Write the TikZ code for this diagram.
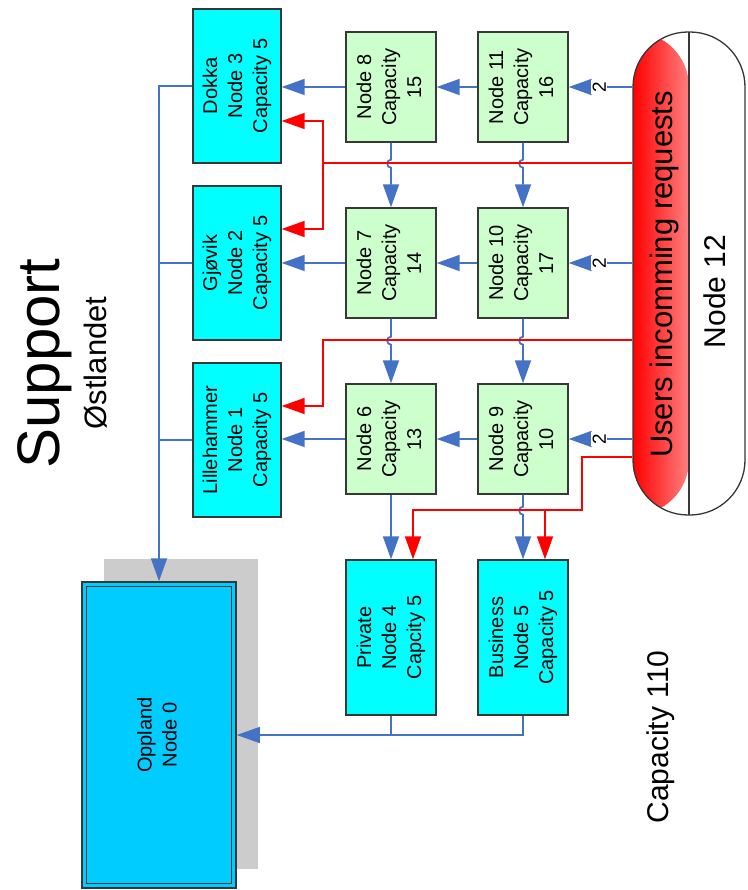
\documentclass[tikz,border=0pt]{standalone}
\usepackage{fontspec}
\setmainfont{Liberation Sans}
\usepackage{graphicx}
\usetikzlibrary{arrows.meta,calc}
\definecolor{lnblue}{RGB}{68,114,196}
\definecolor{boxcyan}{RGB}{0,255,255}
\definecolor{boxgreen}{RGB}{204,255,204}
\definecolor{oppblue}{RGB}{0,204,255}
\definecolor{shadowgray}{RGB}{204,204,204}
\definecolor{edgegray}{RGB}{55,55,55}
\definecolor{rline}{RGB}{255,0,0}
\newcommand{\rottext}[1]{\rotatebox{90}{\begin{tabular}{@{}c@{}}#1\end{tabular}}}
\begin{document}
\begin{tikzpicture}[x=1pt,y=-1pt,
  box/.style={draw=edgegray, line width=1.4pt, inner sep=0pt, font=\fontsize{20}{25}\selectfont},
  cbox/.style={box, fill=boxcyan, minimum width=88pt, minimum height=154pt},
  gbox/.style={box, fill=boxgreen, minimum width=90pt, minimum height=110pt},
  pbox/.style={box, fill=boxcyan, minimum width=90pt, minimum height=155pt},
  barrow/.style={draw=lnblue, line width=1.8pt, -{Triangle[length=23pt,width=16pt]}},
  bline/.style={draw=lnblue, line width=1.5pt},
  rarrow/.style={draw=rline, line width=1.8pt, -{Triangle[length=23pt,width=16pt]}},
  numlbl/.style={rotate=90, fill=white, inner sep=1.5pt, font=\fontsize{19}{19}\selectfont},
  bigtext/.style={rotate=90, inner sep=0pt},
]
\useasboundingbox (0,0) rectangle (747,890);

% shadow and Oppland
\fill[shadowgray] (104,559) rectangle (258,869);
\node[draw=edgegray, line width=1.5pt, fill=oppblue, minimum width=154pt, minimum height=306pt, inner sep=0pt, font=\fontsize{20}{25}\selectfont] (n0) at (159,735) {\rottext{Oppland\\Node 0}};
\draw[edgegray, line width=1.3pt] ($(n0.north west)+(5,5)$) rectangle ($(n0.south east)+(-5,-5)$);

% cyan boxes
\node[cbox] (n3) at (237,86) {\rottext{Dokka\\Node 3\\Capacity 5}};
\node[cbox] (n2) at (237,263) {\rottext{Gjøvik\\Node 2\\Capacity 5}};
\node[cbox] (n1) at (237,440) {\rottext{Lillehammer\\Node 1\\Capacity 5}};

% green boxes
\node[gbox] (n8) at (391,87) {\rottext{Node 8\\Capacity\\15}};
\node[gbox] (n7) at (391,263) {\rottext{Node 7\\Capacity\\14}};
\node[gbox] (n6) at (391,439) {\rottext{Node 6\\Capacity\\13}};
\node[gbox] (n11) at (523,87) {\rottext{Node 11\\Capacity\\16}};
\node[gbox] (n10) at (523,263) {\rottext{Node 10\\Capacity\\17}};
\node[gbox] (n9) at (523,439) {\rottext{Node 9\\Capacity\\10}};

% bottom boxes
\node[pbox] (n4) at (391,637.5) {\rottext{Private\\Node 4\\Capcity 5}};
\node[pbox] (n5) at (523,637.5) {\rottext{Business\\Node 5\\Capacity 5}};

% Node 12 stadium
\node[draw=edgegray, line width=1.3pt, rounded corners=55pt, minimum width=112pt, minimum height=483pt, inner sep=0pt,
  path picture={\shade[left color=red, middle color=red!60, right color=white] (path picture bounding box.north west) rectangle (path picture bounding box.south);
    \draw[edgegray, line width=1.3pt] (path picture bounding box.north) -- (path picture bounding box.south);}] (s12) at (689,273.5) {};
\node[bigtext, font=\fontsize{31}{31}\selectfont] (t12a) at (664,274.5) {Users incomming requests};
\node[bigtext, font=\fontsize{30}{30}\selectfont] (t12b) at (715,291.5) {Node 12};

% titles
\node[bigtext, font=\fontsize{60}{60}\selectfont] (tsup) at (44.5,363.5) {Support};
\node[bigtext, font=\fontsize{31}{31}\selectfont] (tost) at (95.5,363) {Østlandet};
\node[bigtext, font=\fontsize{30}{30}\selectfont] (tcap) at (661,737) {Capacity 110};

% blue horizontal arrows
\draw[barrow] (s12.west |- n11.east) -- node[numlbl, pos=0.52]{2} (n11.east);
\draw[barrow] (s12.west |- n10.east) -- node[numlbl, pos=0.52]{2} (n10.east);
\draw[barrow] (s12.west |- n9.east) -- node[numlbl, pos=0.52]{2} (n9.east);
\draw[barrow] (n11.west) -- (n8.east);
\draw[barrow] (n10.west) -- (n7.east);
\draw[barrow] (n9.west) -- (n6.east);
\draw[barrow] (n8.west) -- (n8.west -| n3.east);
\draw[barrow] (n7.west) -- (n7.west -| n2.east);
\draw[barrow] (n6.west) -- (n6.west -| n1.east);

% blue vertical arrows with hops
\draw[barrow] (n8.south) -- ++(0,17) .. controls +(-5,0) and +(-5,0) .. ++(0,8) -- (n7.north);
\draw[barrow] (n11.south) -- ++(0,17) .. controls +(-5,0) and +(-5,0) .. ++(0,8) -- (n10.north);
\draw[barrow] (n7.south) -- ++(0,18) .. controls +(-5,0) and +(-5,0) .. ++(0,8) -- (n6.north);
\draw[barrow] (n10.south) -- ++(0,18) .. controls +(-5,0) and +(-5,0) .. ++(0,8) -- (n9.north);
\draw[barrow] (n6.south) -- (n4.north);
\draw[barrow] (n9.south) -- ++(0,12) .. controls +(-5,0) and +(-5,0) .. ++(0,8) -- (n5.north);

% collectors to Oppland
\draw[barrow] (n3.west) -| (n0.north);
\draw[bline] (n2.west) -- (n2.west -| n0.north);
\draw[bline] (n1.west) -- (n1.west -| n0.north);
\draw[barrow, line width=1.5pt] (n5.south) |- (n0.east);
\draw[bline] (n4.south) -- (n4.south |- n0.east);

% red request lines
\coordinate (j1) at (323,163);
\coordinate (j2) at (323,340);
\coordinate (j3) at (582,457);
\coordinate (j4) at (582,510);
\draw[rarrow] (s12.west |- j1) -- (j1) |- ($(n3.east)+(0,35)$);
\draw[rarrow] (j1) |- ($(n2.east)+(0,-34)$);
\draw[rarrow] (s12.west |- j2) -- (j2) |- ($(n1.east)+(0,-34)$);
\draw[rarrow] (s12.west |- j3) -- (j3) -- (j4) -| ($(n4.north)+(22,0)$);
\draw[rarrow] ($(n5.north)+(22,-50)$) -- ($(n5.north)+(22,0)$);
\end{tikzpicture}
\end{document}
